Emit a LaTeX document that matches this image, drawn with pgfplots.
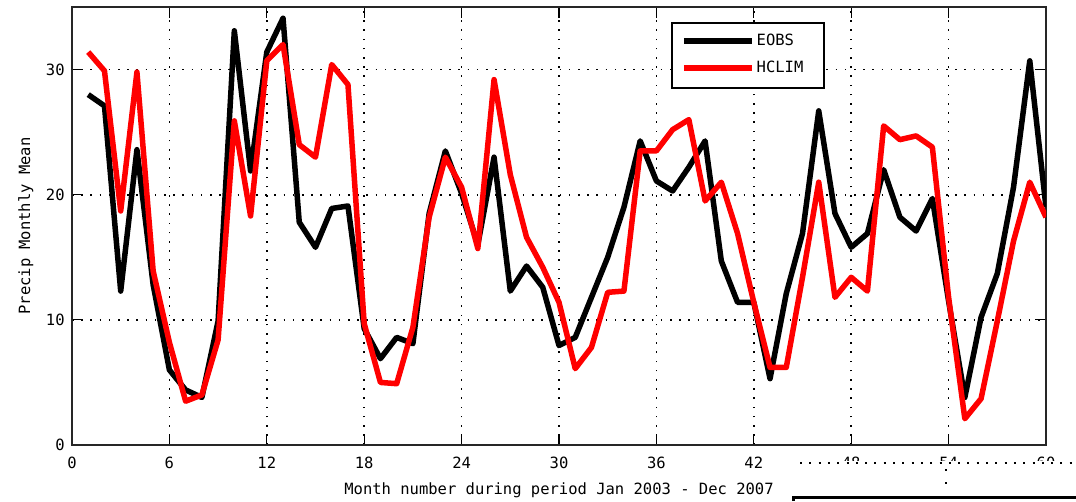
\documentclass[border=0pt]{standalone}
\usepackage{pgfplots}
\pgfplotsset{compat=1.18}
\usepackage{fontspec}
\setmainfont{DejaVu Sans Mono}
\pgfplotstableread{
m v
1 28.0
2 27.1
3 12.3
4 23.6
5 12.8
6 6.0
7 4.4
8 3.8
9 9.9
10 33.1
11 21.9
12 31.4
13 34.1
14 17.8
15 15.8
16 18.9
17 19.1
18 9.3
19 6.9
20 8.6
21 8.1
22 18.5
23 23.5
24 20.1
25 16.0
26 23.0
27 12.3
28 14.3
29 12.6
30 7.95
31 8.6
32 11.8
33 15.0
34 19.0
35 24.3
36 21.1
37 20.3
38 22.2
39 24.3
40 14.7
41 11.4
42 11.4
43 5.3
44 12.1
45 16.9
46 26.7
47 18.5
48 15.8
49 16.9
50 22.0
51 18.2
52 17.1
53 19.7
54 11.5
55 3.8
56 10.2
57 13.7
58 20.6
59 30.7
60 19.0
}\eobs
\pgfplotstableread{
m v
1 31.4
2 29.9
3 18.7
4 29.8
5 13.9
6 8.2
7 3.5
8 4.0
9 8.4
10 25.9
11 18.3
12 30.7
13 32.0
14 24.0
15 23.0
16 30.4
17 28.8
18 9.7
19 5.0
20 4.9
21 9.4
22 18.2
23 23.0
24 20.6
25 15.7
26 29.2
27 21.6
28 16.6
29 14.2
30 11.4
31 6.1
32 7.8
33 12.2
34 12.3
35 23.5
36 23.5
37 25.2
38 26.0
39 19.5
40 21.0
41 16.9
42 11.4
43 6.2
44 6.2
45 13.4
46 21.0
47 11.8
48 13.4
49 12.3
50 25.5
51 24.4
52 24.7
53 23.8
54 11.8
55 2.1
56 3.7
57 9.9
58 16.3
59 21.0
60 18.2
}\hclim
\begin{document}
\fontsize{15.5pt}{18pt}\selectfont
\begin{tikzpicture}[x=1pt,y=1pt]
\useasboundingbox (0,0) rectangle (1076,501);
\begin{axis}[
  at={(72pt,56pt)}, anchor=south west,
  scale only axis, width=974pt, height=438pt,
  xmin=0, xmax=60, ymin=0, ymax=35,
  xtick={0,6,...,60}, ytick={0,10,20,30},
  tick align=inside, major tick length=11pt,
  tick style={line width=1.2pt, black},
  axis line style={line width=1.5pt, black!85},
  grid=major,
  grid style={black, line width=1.6pt, dash pattern=on 1.6pt off 7.6pt},
  /pgf/number format/assume math mode=true,
  ticklabel style={font=\fontsize{15.5pt}{18pt}\selectfont},
  xticklabel style={yshift=-7pt},
  yticklabel style={xshift=-2pt},
  label style={font=\fontsize{15.5pt}{18pt}\selectfont},
  xlabel={Month number during period Jan 2003 - Dec 2007},
  xlabel style={yshift=-3pt},
  ylabel={Precip Monthly Mean},
  ylabel style={yshift=2pt},
  legend style={at={(0.616,0.9635)}, anchor=north west, draw=none, fill=none,
    font=\fontsize{15.5pt}{18pt}\selectfont, inner xsep=9pt, inner ysep=9pt, row sep=9pt,
    legend cell align=left},
  legend image code/.code={\draw[#1] (0pt,0pt) -- (68pt,0pt);},
]
\fill[white, draw=black, line width=1.2pt] (rel axis cs:0.616,0.9635) rectangle (rel axis cs:0.772,0.815);
\addplot[black, line width=5.5pt, line join=round] table[x=m,y=v] {\eobs};
\addlegendentry{EOBS}
\addplot[red, line width=5.5pt, line join=round] table[x=m,y=v] {\hclim};
\addlegendentry{HCLIM}
\end{axis}
\fill[white] (795,0) rectangle (1076,40);
\draw[black, line width=2pt, dash pattern=on 2pt off 7.3pt] (800,38) -- (1076,38);
\fill[black] (945,30) rectangle (947,32);
\fill[black] (945,17) rectangle (947,19);
\draw[black, line width=3pt] (793,0) -- (793,4) -- (1076,4);
\end{tikzpicture}
\end{document}
